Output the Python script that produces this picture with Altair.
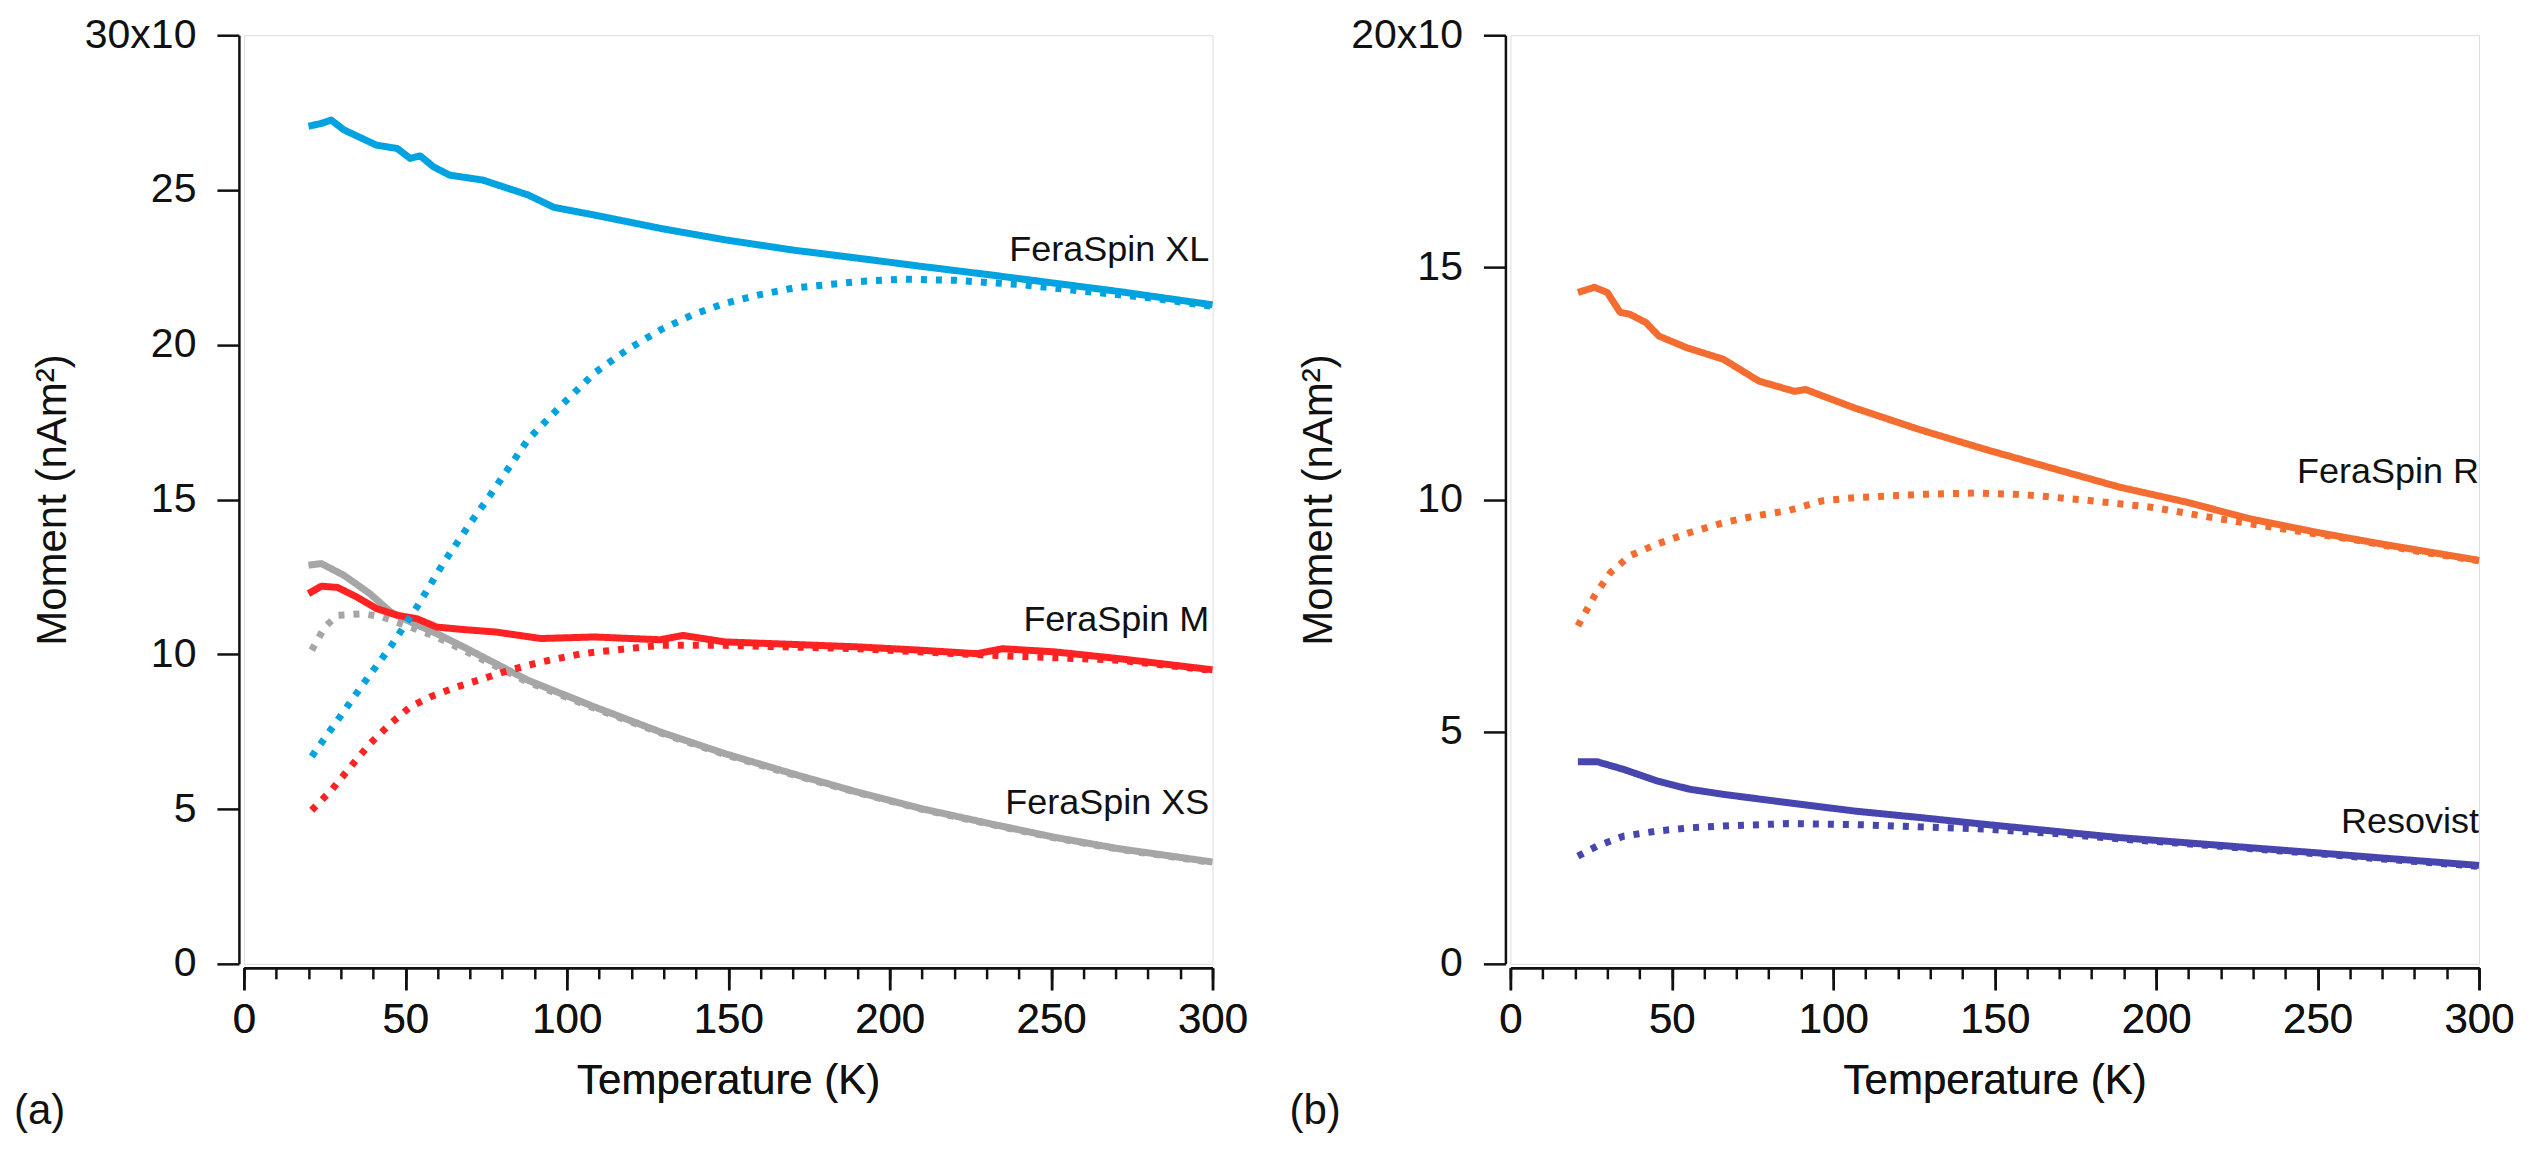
import altair as alt
import pandas as pd

FONT = "Liberation Sans"

# ---------------- Panel (a) data ----------------
XL_FC_T = [20, 24, 27, 31, 41, 47.5, 51.5, 54.6, 58.7, 63.7, 74, 88, 96, 108.6, 129, 149, 170, 190, 210, 231, 251, 271, 300]
XL_FC_M = [27.06, 27.15, 27.26, 26.94, 26.45, 26.34, 26.02, 26.1, 25.75, 25.48, 25.32, 24.84, 24.44, 24.19, 23.76, 23.39, 23.06, 22.8, 22.53, 22.26, 21.99, 21.72, 21.29]
XL_ZFC_T = [21, 29, 37, 45.4, 53.6, 61.7, 70, 76, 88, 98, 108.6, 118.7, 129, 139, 149, 159.5, 170, 190, 204, 220.5, 241, 261, 282, 300]
XL_ZFC_M = [6.70, 7.87, 9.05, 10.24, 11.53, 12.93, 14.22, 15.1, 16.94, 18.01, 19.09, 19.84, 20.48, 20.97, 21.34, 21.61, 21.83, 22.04, 22.12, 22.08, 21.94, 21.72, 21.5, 21.24]

M_FC_T = [20, 24, 29, 35, 41, 47.5, 53.6, 59.7, 68, 78, 92, 108.6, 129, 136, 149, 170, 190, 210, 227, 235, 251, 271, 300]
M_FC_M = [11.96, 12.2, 12.16, 11.85, 11.48, 11.26, 11.15, 10.88, 10.8, 10.72, 10.51, 10.56, 10.47, 10.61, 10.4, 10.32, 10.24, 10.13, 10.02, 10.18, 10.08, 9.86, 9.5]
M_ZFC_T = [21, 27, 33, 39, 45.4, 51.5, 57.6, 65.8, 74, 82, 92, 104.5, 118.7, 129, 149, 190, 231, 271, 300]
M_ZFC_M = [4.96, 5.6, 6.36, 7.11, 7.76, 8.3, 8.62, 8.94, 9.21, 9.48, 9.75, 10.02, 10.18, 10.29, 10.29, 10.18, 9.97, 9.81, 9.48]

XS_FC_T = [20, 24, 31, 39, 45.4, 51.5, 59.7, 68, 78, 88, 108.6, 129, 149, 170, 190, 210, 231, 251, 271, 300]
XS_FC_M = [12.88, 12.93, 12.55, 11.96, 11.37, 11.05, 10.67, 10.24, 9.7, 9.16, 8.3, 7.49, 6.79, 6.14, 5.55, 5.01, 4.53, 4.09, 3.72, 3.29]
XS_ZFC_T = [21, 25, 29, 37, 43, 51.5, 59.7, 68, 78, 88, 108.6, 129, 149, 170, 190, 210, 231, 251, 271, 300]
XS_ZFC_M = [10.13, 10.88, 11.26, 11.31, 11.2, 10.88, 10.56, 10.13, 9.62, 9.1, 8.26, 7.46, 6.76, 6.11, 5.53, 4.99, 4.51, 4.07, 3.7, 3.27]

# ---------------- Panel (b) data ----------------
R_FC_T = [20.9, 26, 30, 34, 37, 42, 46, 54.6, 66, 77, 88, 91.4, 106.7, 127, 147.6, 168, 188.5, 209, 229.4, 250, 270, 300]
R_FC_M = [14.46, 14.57, 14.46, 14.03, 13.99, 13.81, 13.52, 13.27, 13.02, 12.55, 12.33, 12.37, 11.97, 11.5, 11.07, 10.67, 10.27, 9.95, 9.58, 9.29, 9.04, 8.69]
R_ZFC_T = [20.9, 26, 31, 37, 45.4, 55.6, 66, 76, 86, 96.5, 106.7, 127, 143.6, 158, 178, 199, 219, 240, 260, 280.6, 300]
R_ZFC_M = [7.28, 7.92, 8.43, 8.79, 9.04, 9.29, 9.5, 9.65, 9.76, 9.97, 10.04, 10.11, 10.14, 10.11, 9.99, 9.83, 9.59, 9.36, 9.15, 8.89, 8.68]

RES_T = [20.9, 27, 35, 45.4, 55.6, 66, 86, 106.7, 127, 147.6, 168, 188.5, 209, 229.4, 250, 270, 300]
RES_FC_M = [4.35, 4.35, 4.19, 3.94, 3.76, 3.65, 3.47, 3.29, 3.15, 3.0, 2.86, 2.72, 2.61, 2.5, 2.39, 2.28, 2.12]
RES_ZFC_M = [2.32, 2.54, 2.75, 2.86, 2.93, 2.97, 3.02, 3.0, 2.95, 2.9, 2.81, 2.69, 2.59, 2.48, 2.37, 2.26, 2.1]

# ---------------- labels ----------------
A_NAMES = ["FeraSpin XS", "FeraSpin M", "FeraSpin XL"]
A_COLORS = ["#a6a6a6", "#fe2222", "#00a2df"]
A_LABEL_T = [299, 299, 299]
A_LABEL_M = [4.85, 10.75, 22.7]

B_NAMES = ["Resovist", "FeraSpin R"]
B_COLORS = ["#4646ae", "#f36c30"]
B_LABEL_T = [300, 300]
B_LABEL_M = [2.82, 10.35]

X_MAJOR = [0, 50, 100, 150, 200, 250, 300]
X_MINOR = list(range(0, 301, 10))
A_Y_TICKS = [0, 5, 10, 15, 20, 25, 30]
B_Y_TICKS = [0, 5, 10, 15, 20]

W, H = 969, 929


def rows(name, mode, ts, ms):
    return [{"T": t, "M": m, "series": name, "mode": mode} for t, m in zip(ts, ms)]


df_a = pd.DataFrame(
    rows("FeraSpin XS", "FC", XS_FC_T, XS_FC_M) + rows("FeraSpin XS", "ZFC", XS_ZFC_T, XS_ZFC_M)
    + rows("FeraSpin M", "FC", M_FC_T, M_FC_M) + rows("FeraSpin M", "ZFC", M_ZFC_T, M_ZFC_M)
    + rows("FeraSpin XL", "FC", XL_FC_T, XL_FC_M) + rows("FeraSpin XL", "ZFC", XL_ZFC_T, XL_ZFC_M)
)
df_b = pd.DataFrame(
    rows("Resovist", "FC", RES_T, RES_FC_M) + rows("Resovist", "ZFC", RES_T, RES_ZFC_M)
    + rows("FeraSpin R", "FC", R_FC_T, R_FC_M) + rows("FeraSpin R", "ZFC", R_ZFC_T, R_ZFC_M)
)
lab_a = pd.DataFrame({"T": A_LABEL_T, "M": A_LABEL_M, "label": A_NAMES})
lab_b = pd.DataFrame({"T": B_LABEL_T, "M": B_LABEL_M, "label": B_NAMES})


def panel(df, labs, names, colors, ymax, yticks, tag, tag_dx):
    xscale = alt.Scale(domain=[0, 300], nice=False, zero=False)
    yscale = alt.Scale(domain=[0, ymax], nice=False)
    top_lbl = f"{ymax}x10"
    y_axis = alt.Axis(
        values=yticks, tickSize=22, tickWidth=2.5, domainWidth=2.5, tickColor="#111", domainColor="#111",
        labelFontSize=41, labelFont=FONT, labelColor="#111", labelPadding=21,
        labelExpr=f"datum.value == {ymax} ? '{top_lbl}' : datum.label",
        title="Moment (nAm²)", titleFontSize=42, titleFont=FONT, titleFontWeight="normal",
        titleColor="#111", titlePadding=10, offset=5, grid=False,
    )
    x_axis = alt.Axis(
        values=X_MAJOR, orient="bottom", tickSize=22, tickWidth=2.5, domainWidth=2.5,
        tickColor="#111", domainColor="#111", labelFontSize=42, labelFont=FONT, labelColor="#111",
        labelPadding=10, title="Temperature (K)", titleFontSize=42, titleFont=FONT,
        titleFontWeight="normal", titleColor="#111", titlePadding=20, offset=4, grid=False,
        labelFlush=False,
    )
    x_minor = alt.Axis(
        values=X_MINOR, orient="bottom", tickSize=11, tickWidth=2.5, tickColor="#111",
        labels=False, domain=False, title="", offset=4, grid=False,
    )
    lines = alt.Chart(df).mark_line(strokeWidth=7, strokeCap="butt", strokeJoin="round").encode(
        x=alt.X("T:Q", scale=xscale, axis=x_axis),
        y=alt.Y("M:Q", scale=yscale, axis=y_axis),
        color=alt.Color("series:N", scale=alt.Scale(domain=names, range=colors), legend=None),
        strokeDash=alt.StrokeDash("mode:N", scale=alt.Scale(domain=["FC", "ZFC"], range=[[1, 0], [6, 9]]), legend=None),
        detail="mode:N",
    )
    minor = alt.Chart(df).mark_line(opacity=0).encode(
        x=alt.X("T:Q", scale=xscale, axis=x_minor),
        y=alt.Y("M:Q", scale=yscale, axis=y_axis),
        detail="series:N",
    )
    text = alt.Chart(labs).mark_text(
        align="right", baseline="alphabetic", fontSize=36, font=FONT, color="#111"
    ).encode(
        x=alt.X("T:Q", scale=xscale, axis=x_axis),
        y=alt.Y("M:Q", scale=yscale, axis=y_axis),
        text="label:N",
    )
    tagc = alt.Chart(pd.DataFrame({"t": [tag]})).mark_text(
        align="left", baseline="alphabetic", fontSize=42, font=FONT, color="#111"
    ).encode(x=alt.value(tag_dx), y=alt.value(1089), text="t:N")
    return alt.layer(lines, minor, text, tagc).resolve_axis(x="independent").properties(width=W, height=H)


pa = panel(df_a, lab_a, A_NAMES, A_COLORS, 30, A_Y_TICKS, "(a)", -230)
pb = panel(df_b, lab_b, B_NAMES, B_COLORS, 20, B_Y_TICKS, "(b)", -221)

chart = alt.hconcat(pa, pb, spacing=298, bounds="flush").resolve_scale(
    x="independent", y="independent", color="independent", strokeDash="independent"
).properties(padding={"left": 5, "top": 5, "right": 5, "bottom": 5}).configure_view(
    strokeWidth=0, stroke="transparent"
).configure(background="white")

chart.save("out.html", embed_options={"renderer": "svg", "actions": False})
